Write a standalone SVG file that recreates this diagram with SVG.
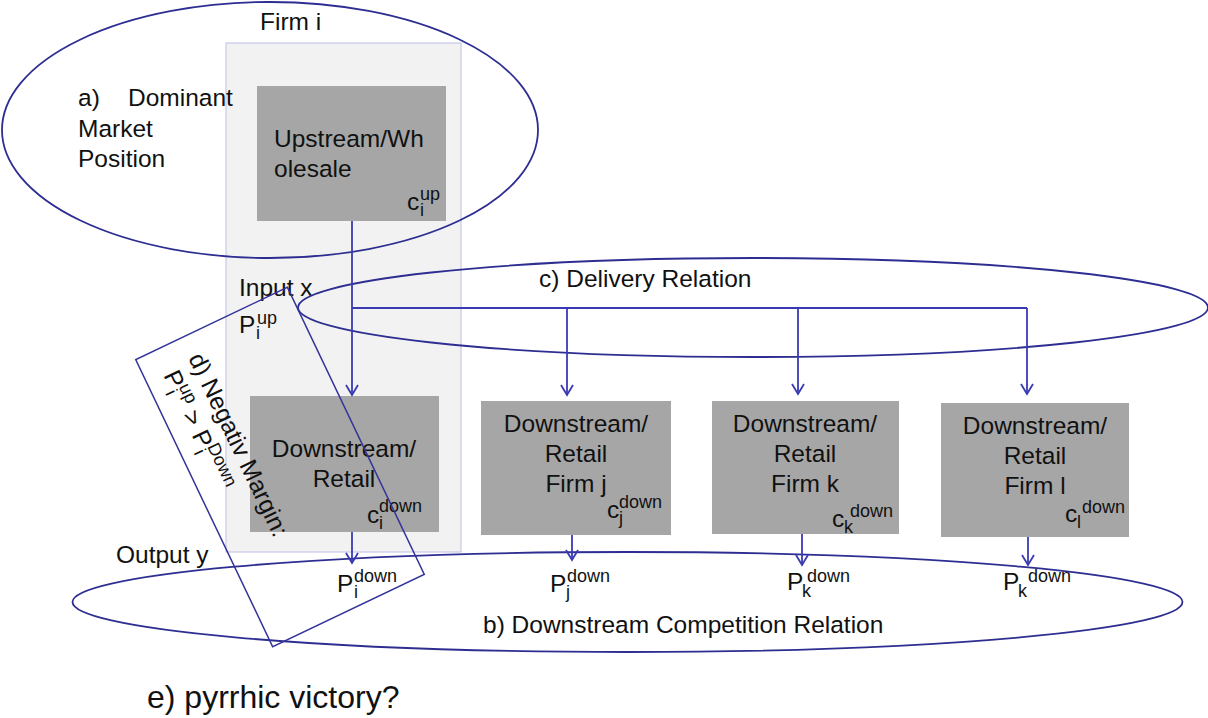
<svg xmlns="http://www.w3.org/2000/svg" width="1208" height="718" viewBox="0 0 1208 718">
<style>
text{font-family:"Liberation Sans",Arial,sans-serif;fill:#111;font-size:24.5px}
.s{font-size:18px}
.big{font-size:32px}
.mid{text-anchor:middle}
.box{fill:#a6a6a6}
.ell{fill:none;stroke:#2e2e92;stroke-width:1.8}
.con{fill:none;stroke:#3a3ab4;stroke-width:1.8}
</style>
<defs>
<marker id="arr" viewBox="-12 -8 14 16" refX="0" refY="0" markerWidth="14" markerHeight="16" markerUnits="userSpaceOnUse" orient="auto">
<path d="M-10,-6 L0,0 L-10,6" fill="none" stroke="#3a3ab4" stroke-width="1.8"/>
</marker>
</defs>
<rect width="1208" height="718" fill="#fff"/>

<g id="firm-i">
<rect x="226" y="43" width="235" height="509" fill="#f2f2f2" stroke="#c8c8ea" stroke-width="1.2"/>
<text x="260" y="30">Firm i</text>
<text x="239" y="296">Input x</text>
<text x="239" y="333">P</text><text class="s" x="256" y="339">i</text><text class="s" x="257" y="324">up</text>
</g>

<g id="dominant">
<ellipse class="ell" cx="270" cy="130" rx="268" ry="128"/>
<text x="78" y="106">a)</text><text x="128" y="106">Dominant</text>
<text x="78" y="137">Market</text>
<text x="78" y="167">Position</text>
</g>

<g id="upstream">
<rect class="box" x="257" y="86" width="189" height="135"/>
<text x="274" y="147">Upstream/Wh</text>
<text x="274" y="177">olesale</text>
<text x="407" y="210">c</text><text class="s" x="420" y="216">i</text><text class="s" x="420" y="200">up</text>
</g>

<g id="delivery">
<ellipse class="ell" cx="753" cy="307.5" rx="455" ry="49.5"/>
<text x="539" y="287">c) Delivery Relation</text>
</g>

<g id="competition">
<ellipse class="ell" cx="627.5" cy="602" rx="555" ry="50"/>
<text x="483" y="633">b) Downstream Competition Relation</text>
<text x="116" y="563">Output y</text>
</g>

<g id="down-i">
<rect class="box" x="250" y="396" width="189" height="136"/>
<text class="mid" x="344" y="457">Downstream/</text>
<text class="mid" x="344" y="487">Retail</text>
<text x="367" y="523">c</text><text class="s" x="379" y="529">i</text><text class="s" x="379" y="512">down</text>
<text x="337" y="592">P</text><text class="s" x="354" y="598">i</text><text class="s" x="354" y="582">down</text>
</g>

<g id="down-j">
<rect class="box" x="481" y="401" width="190" height="134"/>
<text class="mid" x="576" y="432">Downstream/</text>
<text class="mid" x="576" y="462">Retail</text>
<text class="mid" x="576" y="492">Firm j</text>
<text x="607" y="518">c</text><text class="s" x="619" y="524">j</text><text class="s" x="619" y="508">down</text>
<text x="550" y="592">P</text><text class="s" x="566" y="598">j</text><text class="s" x="567" y="582">down</text>
</g>

<g id="down-k">
<rect class="box" x="712" y="401" width="187" height="133"/>
<text class="mid" x="805" y="432">Downstream/</text>
<text class="mid" x="805" y="462">Retail</text>
<text class="mid" x="805" y="492">Firm k</text>
<text x="832" y="527">c</text><text class="s" x="844" y="533">k</text><text class="s" x="850" y="517">down</text>
<text x="787" y="590">P</text><text class="s" x="802" y="597">k</text><text class="s" x="807" y="582">down</text>
</g>

<g id="down-l">
<rect class="box" x="941" y="403" width="188" height="134"/>
<text class="mid" x="1035" y="434">Downstream/</text>
<text class="mid" x="1035" y="464">Retail</text>
<text class="mid" x="1035" y="494">Firm l</text>
<text x="1065" y="522">c</text><text class="s" x="1077" y="528">l</text><text class="s" x="1082" y="513">down</text>
<text x="1003" y="590">P</text><text class="s" x="1018" y="597">k</text><text class="s" x="1028" y="582">down</text>
</g>

<g id="connectors">
<path class="con" d="M352,221 V395" marker-end="url(#arr)"/>
<path class="con" d="M352,308 H1027"/>
<path class="con" d="M567,308 V395" marker-end="url(#arr)"/>
<path class="con" d="M798,308 V394" marker-end="url(#arr)"/>
<path class="con" d="M1027,308 V394" marker-end="url(#arr)"/>
<path class="con" d="M352,532 V563" marker-end="url(#arr)"/>
<path class="con" d="M572,535 V560" marker-end="url(#arr)"/>
<path class="con" d="M802,534 V565" marker-end="url(#arr)"/>
<path class="con" d="M1028,537 V565" marker-end="url(#arr)"/>
</g>

<g id="negative-margin" transform="translate(280,467) rotate(64.5)">
<rect x="-159" y="-84" width="318" height="168" fill="none" stroke="#33339a" stroke-width="1.5"/>
<text x="-138" y="36">d) Negativ Margin:</text>
<text x="-133" y="66">P</text><text class="s" x="-116" y="72">i</text><text class="s" x="-116" y="57">up</text>
<text x="-89" y="66">&gt;</text>
<text x="-67" y="66">P</text><text class="s" x="-50" y="72">i</text><text class="s" x="-50" y="57">Down</text>
</g>

<g id="pyrrhic">
<text class="big" x="147" y="708">e) pyrrhic victory?</text>
</g>
</svg>
